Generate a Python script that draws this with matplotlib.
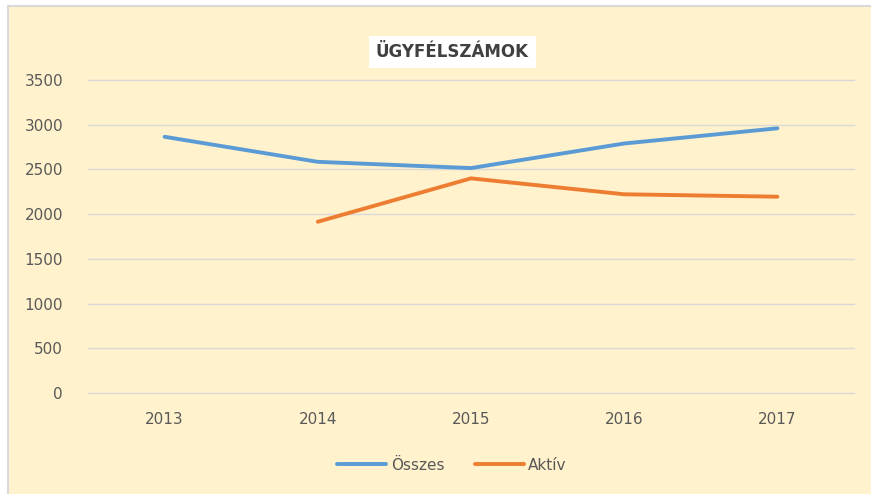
import matplotlib.pyplot as plt
from matplotlib.lines import Line2D
from matplotlib.patches import Rectangle

years = ["2013", "2014", "2015", "2016", "2017"]
osszes = [2865, 2585, 2515, 2790, 2960]
aktiv = [None, 1915, 2400, 2222, 2195]

BG = "#FFF2CC"
COL_OSSZ, COL_AKT = "#5B9BD5", "#ED7D31"
W, H = 871, 494

fig = plt.figure(figsize=(W / 100, H / 100), dpi=100, facecolor="white")
# chart area background; grey border only on top/left (rest runs off the image)
fig.patches.append(Rectangle((8 / W, -0.1), 1.2, 1.1 - 6 / H, transform=fig.transFigure,
                             facecolor=BG, edgecolor="none", zorder=-10))
for xs, ys in (([8 / W, 1.1], [1 - 6 / H] * 2), ([8 / W] * 2, [-0.1, 1 - 6 / H])):
    fig.lines.append(Line2D(xs, ys, transform=fig.transFigure, color="#D9D9D9", lw=1.5))

ax = fig.add_axes([88 / W, 1 - 393 / H, (854 - 88) / W, (393 - 80) / H])
ax.patch.set_alpha(0)

x = list(range(len(years)))
ax.plot(x, osszes, color=COL_OSSZ, lw=2.8, solid_capstyle="round", label="Összes")
xa = [i for i, v in zip(x, aktiv) if v is not None]
ya = [v for v in aktiv if v is not None]
ax.plot(xa, ya, color=COL_AKT, lw=2.8, solid_capstyle="round", label="Aktív")

ax.set_xlim(-0.5, len(years) - 0.5)
ax.set_ylim(0, 3500)
ax.set_yticks(range(0, 3501, 500))
ax.set_xticks(x)
ax.set_xticklabels(years)
ax.grid(axis="y", color="#D9D9D9", lw=1)
for gl in ax.get_ygridlines():
    gl.set_clip_on(False)
ax.set_axisbelow(True)
for s in ax.spines.values():
    s.set_visible(False)
ax.tick_params(length=0, labelsize=11, labelcolor="#595959")
ax.tick_params(axis="y", pad=18)
ax.tick_params(axis="x", pad=14)

fig.text(452 / W, 1 - 52 / H, "ÜGYFÉLSZÁMOK", ha="center", va="center",
         fontsize=12, fontweight="bold", color="#404040",
         bbox=dict(facecolor="white", edgecolor="none", pad=5))

fig.legend(loc="center", bbox_to_anchor=(452 / W, 1 - 465 / H), ncol=2,
           frameon=False, fontsize=11, labelcolor="#595959",
           handlelength=3.2, columnspacing=2.0, handletextpad=0.3)

fig.savefig("out.png", dpi=100, facecolor="white")
